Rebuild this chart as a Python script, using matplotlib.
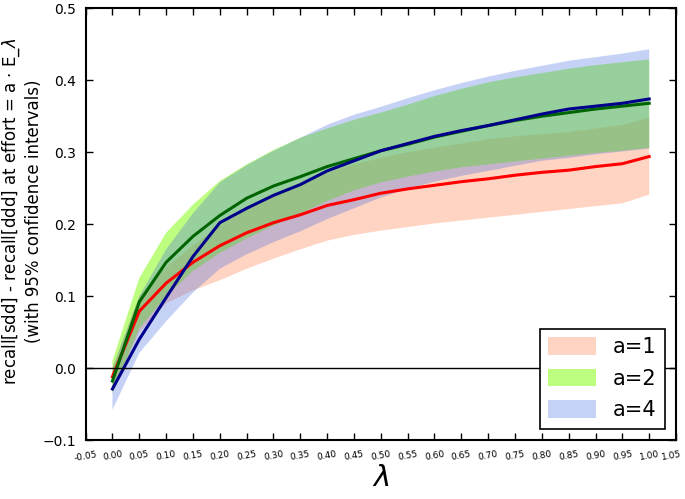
import numpy as np
import matplotlib
matplotlib.use("Agg")
import matplotlib.pyplot as plt
import matplotlib.patches as mpatches
import matplotlib.transforms as mtransforms

# valores de lambda
lambdas = [0.00, 0.05, 0.10, 0.15, 0.20, 0.25, 0.30, 0.35, 0.40, 0.45, 0.50,
           0.55, 0.60, 0.65, 0.70, 0.75, 0.80, 0.85, 0.90, 0.95, 1.00]

# a=1
media_a1 = [-0.012, 0.079, 0.118, 0.147, 0.170, 0.188, 0.202, 0.213, 0.226, 0.234, 0.243,
            0.249, 0.254, 0.259, 0.263, 0.268, 0.272, 0.275, 0.280, 0.284, 0.294]
sup_a1 = [0.000, 0.100, 0.140, 0.170, 0.198, 0.222, 0.240, 0.257, 0.272, 0.283, 0.292,
          0.300, 0.306, 0.312, 0.318, 0.322, 0.325, 0.328, 0.333, 0.338, 0.348]
inf_a1 = [-0.030, 0.050, 0.090, 0.108, 0.122, 0.138, 0.152, 0.165, 0.177, 0.185, 0.191,
          0.196, 0.201, 0.205, 0.209, 0.213, 0.217, 0.221, 0.225, 0.229, 0.241]

# a=2
media_a2 = [-0.018, 0.092, 0.147, 0.183, 0.212, 0.236, 0.253, 0.266, 0.280, 0.291, 0.302,
            0.311, 0.321, 0.329, 0.337, 0.344, 0.350, 0.355, 0.360, 0.364, 0.368]
sup_a2 = [0.010, 0.125, 0.188, 0.227, 0.260, 0.283, 0.303, 0.320, 0.333, 0.345, 0.355,
          0.366, 0.378, 0.388, 0.397, 0.404, 0.410, 0.416, 0.421, 0.425, 0.429]
inf_a2 = [-0.035, 0.055, 0.100, 0.135, 0.160, 0.180, 0.198, 0.215, 0.232, 0.247, 0.258,
          0.266, 0.273, 0.279, 0.283, 0.287, 0.291, 0.295, 0.299, 0.302, 0.306]

# a=4
media_a4 = [-0.029, 0.040, 0.098, 0.155, 0.202, 0.222, 0.240, 0.255, 0.274, 0.288, 0.302,
            0.312, 0.322, 0.330, 0.337, 0.345, 0.353, 0.360, 0.364, 0.368, 0.374]
sup_a4 = [0.000, 0.100, 0.165, 0.215, 0.258, 0.282, 0.302, 0.320, 0.338, 0.352, 0.363,
          0.375, 0.386, 0.396, 0.405, 0.413, 0.420, 0.427, 0.432, 0.437, 0.443]
inf_a4 = [-0.058, 0.021, 0.065, 0.105, 0.138, 0.158, 0.175, 0.190, 0.207, 0.222, 0.237,
          0.249, 0.259, 0.267, 0.274, 0.281, 0.288, 0.292, 0.297, 0.301, 0.305]

etiquetas = ["a=1", "a=2", "a=4"]

fig = plt.figure(figsize=(6.85, 4.99), dpi=100)
ax = fig.add_axes([0.125, 0.1182, 0.8619, 0.8652])

# bandas de confianza
ax.fill_between(lambdas, inf_a1, sup_a1, facecolor="lightsalmon", alpha=0.45, linewidth=0)
ax.fill_between(lambdas, inf_a2, sup_a2, facecolor="lawngreen", alpha=0.5, linewidth=0)
ax.fill_between(lambdas, inf_a4, sup_a4, facecolor="royalblue", alpha=0.3, linewidth=0)

# medias
ax.plot(lambdas, media_a1, color="red", linewidth=2.2)
ax.plot(lambdas, media_a2, color="darkgreen", linewidth=2.2)
ax.plot(lambdas, media_a4, color="darkblue", linewidth=2.2)

ax.axhline(0, color="black", linewidth=1)

ax.set_xlim(-0.05, 1.05)
ax.set_ylim(-0.1, 0.5)
ticks_x = np.arange(-0.05, 1.051, 0.05)
ax.set_xticks(ticks_x)
ax.set_xticklabels(["%.2f" % t for t in ticks_x], fontsize=6.5, rotation=10)
ax.set_yticks([-0.1, 0.0, 0.1, 0.2, 0.3, 0.4, 0.5])
ax.set_yticklabels(["\u22120.1", "0.0", "0.1", "0.2", "0.3", "0.4", "0.5"], fontsize=10)
ax.tick_params(direction="in", top=True, right=True, length=5, width=1)
ax.tick_params(axis="x", pad=7)
ax.tick_params(axis="y", pad=7)
for s in ax.spines.values():
    s.set_linewidth(1.5)

# la ultima etiqueta un poco a la izquierda para que no se corte
ultima = ax.get_xticklabels()[-1]
ultima.set_transform(ultima.get_transform() +
                     mtransforms.ScaledTranslation(-3 / 72, 0, fig.dpi_scale_trans))

ax.set_xlabel("$\\lambda$", fontsize=21, labelpad=1)
ax.set_ylabel("recall[sdd] - recall[ddd] at effort = a $\\cdot$ E_$\\lambda$\n(with 95% confidence intervals)",
              fontsize=12)
ax.yaxis.set_label_coords(-0.073, 0.53)

# leyenda
parches = [mpatches.Patch(facecolor="lightsalmon", alpha=0.45, linewidth=0),
           mpatches.Patch(facecolor="lawngreen", alpha=0.5, linewidth=0),
           mpatches.Patch(facecolor="royalblue", alpha=0.3, linewidth=0)]
ley = ax.legend(parches, etiquetas, loc="lower right", fontsize=15, fancybox=False,
                framealpha=1, edgecolor="black", handlelength=2.3, handleheight=0.9,
                labelspacing=0.55, borderaxespad=0.55, borderpad=0.4)
ley.get_frame().set_linewidth(1.2)

fig.savefig("out.png", dpi=100)
